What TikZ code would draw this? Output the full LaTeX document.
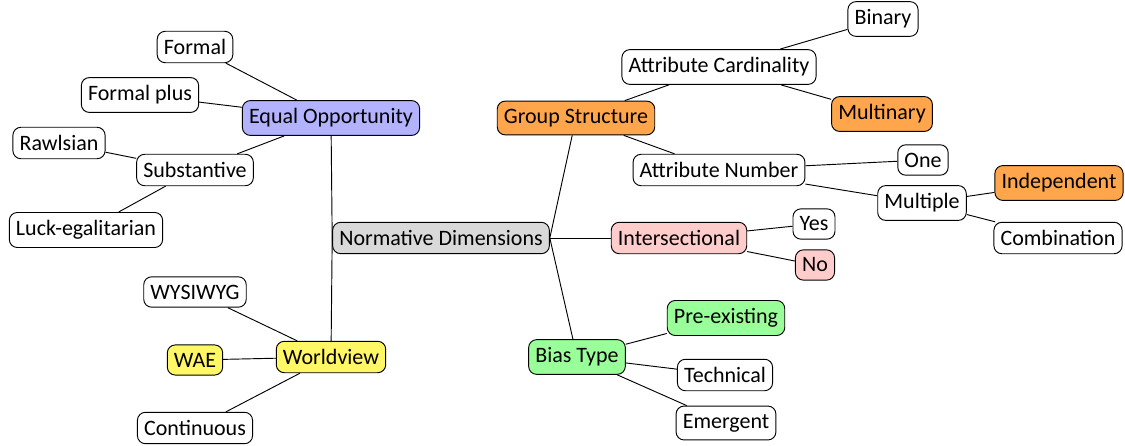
\documentclass[tikz,border=0pt]{standalone}
\usepackage{fontspec}
\setmainfont{Carlito}
\usepackage{tikz}

\begin{document}
\begin{tikzpicture}[x=0.75pt, y=-0.75pt, line width=0.7pt,
  box/.style={draw, rounded corners=6pt, inner xsep=5pt, inner ysep=6pt,
              font=\fontsize{16.5}{18}\selectfont}]

\useasboundingbox (0,0) rectangle (1125,446);

\node[box, fill=gray!30] (norm) at (441,238) {Normative Dimensions};

% parents come before their children in the list
\foreach \name/\px/\py/\lab/\col/\up in {
  eqop/331/118/{Equal Opportunity}/blue!30/norm.west,
  world/331/357/{Worldview}/yellow!60/norm.west,
  group/576/118/{Group Structure}/orange!70/norm.east,
  inter/679/238/{Intersectional}/red!20/norm.east,
  bias/577/357/{Bias Type}/green!40/norm.east,
  formal/195/47/{Formal}/white/eqop,
  fplus/140/95/{Formal plus}/white/eqop,
  subst/195/170/{Substantive}/white/eqop,
  rawls/59/143/{Rawlsian}/white/subst,
  luck/86/230/{Luck-egalitarian}/white/subst,
  wysi/195/292/{WYSIWYG}/white/world,
  wae/195/360/{WAE}/yellow!60/world,
  cont/195/428/{Continuous}/white/world,
  card/719/67/{Attribute Cardinality}/white/group,
  binary/883/19/{Binary}/white/card,
  multi/882/114/{Multinary}/orange!70/card,
  number/719/170/{Attribute Number}/white/group,
  one/923/160/{One}/white/number,
  multiple/922/203/{Multiple}/white/number,
  indep/1059/183/{Independent}/orange!70/multiple,
  comb/1058/238/{Combination}/white/multiple,
  yes/814/224/{Yes}/white/inter,
  no/815/265/{No}/red!20/inter,
  pre/726/318/{Pre-existing}/green!40/bias,
  tech/725/375/{Technical}/white/bias,
  emerg/726/423/{Emergent}/white/bias}{
  \node[box, fill=\col] (\name) at (\px,\py) {\lab};
  \draw (\up) -- (\name);
}

\end{tikzpicture}
\end{document}
